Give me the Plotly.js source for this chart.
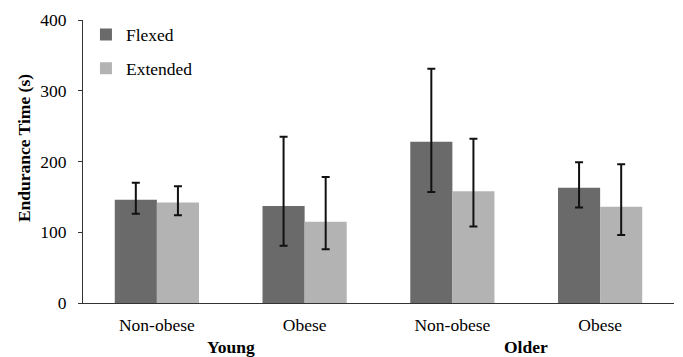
<!DOCTYPE html>
<html>
<head>
<meta charset="utf-8">
<script src="https://cdn.plot.ly/plotly-3.0.1.min.js"></script>
<style>html,body{margin:0;padding:0;background:#fff;} #chart{width:683px;height:357px;}</style>
</head>
<body>
<div id="chart"></div>
<script>
// ---- data ----
var subgroups = ["Non-obese", "Obese", "Non-obese", "Obese"];
var ageGroups = ["Young", "Older"];
var flexed = [146, 137, 228, 163];
var flexedErrPlus = [24, 98, 103, 36];
var flexedErrMinus = [20, 56, 71, 28];
var extended = [142, 115, 158, 136];
var extendedErrPlus = [23, 63, 74, 60];
var extendedErrMinus = [18, 39, 50, 40];
var yTicks = [0, 100, 200, 300, 400];
var yTitle = "Endurance Time (s)";

var xpos = subgroups.map(function (_, i) { return i; });
var boundaries = xpos.map(function (i) { return i - 0.5; }).concat([subgroups.length - 0.5]);

var FONT = "Liberation Serif";
var FS = 17.5;

var traces = [
  {
    type: "bar", name: "Flexed", x: xpos, y: flexed, legendgroup: "f",
    marker: {color: "#6a6a6a"},
    error_y: {type: "data", symmetric: false, array: flexedErrPlus, arrayminus: flexedErrMinus,
              color: "#111111", thickness: 2, width: 4}
  },
  {
    type: "bar", name: "Extended", x: xpos, y: extended, legendgroup: "e",
    marker: {color: "#b3b3b3"},
    error_y: {type: "data", symmetric: false, array: extendedErrPlus, arrayminus: extendedErrMinus,
              color: "#111111", thickness: 2, width: 4}
  }
];

var annotations = ageGroups.map(function (g, k) {
  return {
    text: "<b>" + g + "</b>", xref: "x", yref: "paper",
    x: 2 * k + 0.5, y: -0.155, yanchor: "middle", xanchor: "center",
    showarrow: false, font: {family: FONT, size: FS, color: "#000"}
  };
});
annotations.push({
  text: "<b>" + yTitle + "</b>", xref: "paper", yref: "paper",
  x: -0.1, y: 0.547, xanchor: "center", yanchor: "middle", textangle: -90,
  showarrow: false, font: {family: FONT, size: FS, color: "#000"}
});

var layout = {
  width: 683, height: 357,
  margin: {l: 83, r: 9, t: 20, b: 54},
  paper_bgcolor: "#fff", plot_bgcolor: "#fff",
  font: {family: FONT, size: FS, color: "#000"},
  barmode: "group", bargap: 0.43, bargroupgap: 0,
  showlegend: true,
  legend: {
    x: 0.005, y: 1.012, xanchor: "left", yanchor: "top",
    bgcolor: "rgba(0,0,0,0)", font: {family: FONT, size: FS, color: "#000"},
    itemwidth: 30, tracegroupgap: 8, traceorder: "grouped"
  },
  xaxis: {
    range: [-0.5, subgroups.length - 0.5],
    tickmode: "array", tickvals: xpos, ticktext: subgroups,
    ticks: "", showgrid: false, zeroline: false,
    showline: true, linecolor: "#333", linewidth: 1,
    tickfont: {family: FONT, size: FS, color: "#000"},
    ticklabelstandoff: 6, fixedrange: true
  },
  xaxis2: {
    overlaying: "x", matches: "x", side: "bottom",
    range: [-0.5, subgroups.length - 0.5],
    tickmode: "array", tickvals: boundaries,
    ticks: "outside", ticklen: 5, tickwidth: 1, tickcolor: "#333",
    showticklabels: false, showgrid: false, zeroline: false, showline: false
  },
  yaxis: {
    range: [0, 400], tickmode: "array", tickvals: yTicks,
    ticks: "outside", ticklen: 4, tickwidth: 1, tickcolor: "#333",
    showgrid: false, zeroline: false,
    showline: true, linecolor: "#333", linewidth: 1,
    tickfont: {family: FONT, size: FS, color: "#000"},
    ticklabelstandoff: 8
  },
  annotations: annotations
};

Plotly.newPlot("chart", traces, layout, {staticPlot: true, displayModeBar: false});
</script>
</body>
</html>
